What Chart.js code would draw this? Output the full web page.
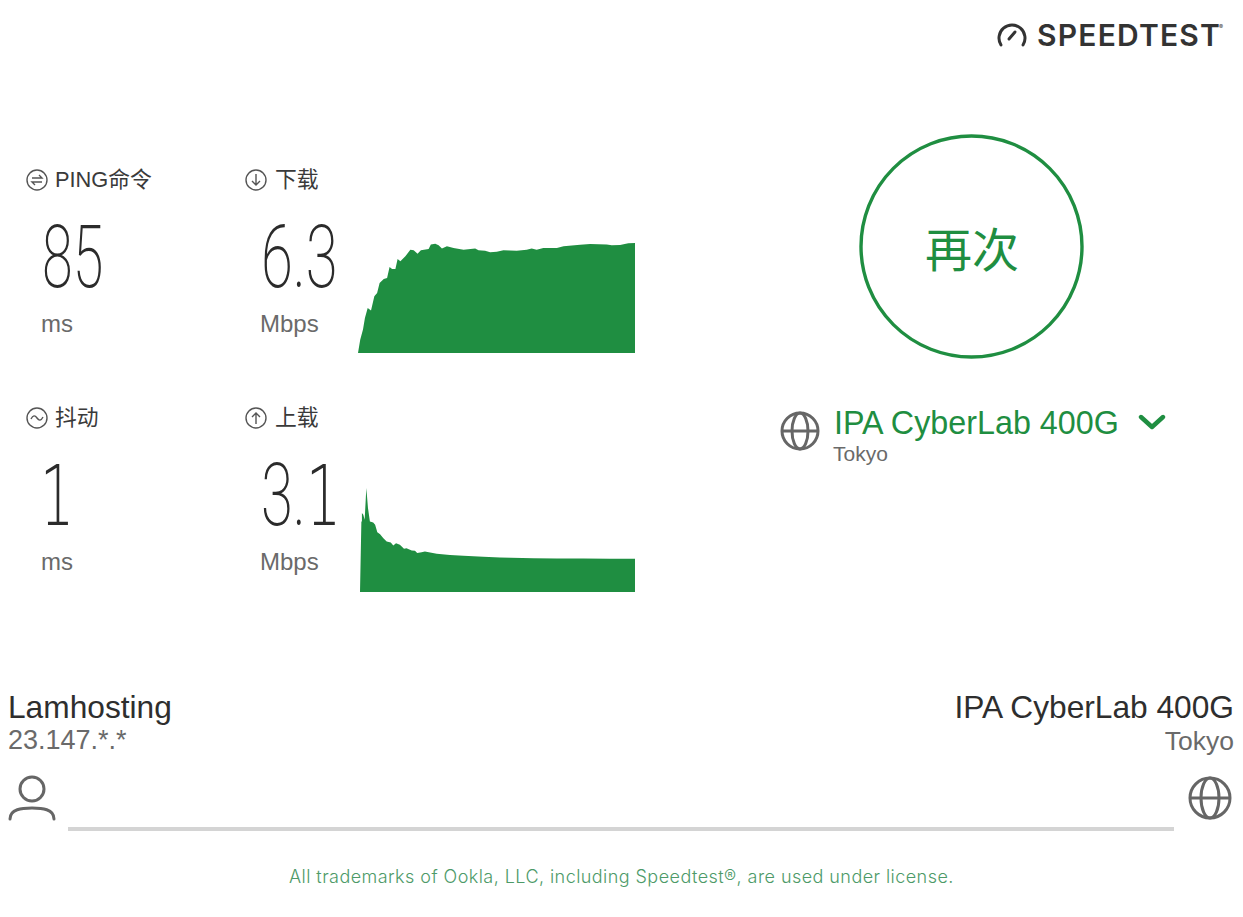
<!DOCTYPE html>
<html>
<head>
<meta charset="utf-8">
<title>Speedtest</title>
<script src="https://cdn.jsdelivr.net/npm/chart.js@4"></script>
<style>
  html, body { margin: 0; padding: 0; background: #fff; }
  body { position: relative; width: 1243px; height: 917px; overflow: hidden; font-family: "Liberation Sans", "Noto Sans CJK SC", sans-serif; }
  .t { position: absolute; white-space: nowrap; line-height: 1; }
  .label { font-size: 21.8px; color: #3a3a3a; }
  .unit { font-size: 24px; color: #6a6a6a; }
  .big { font-family: Roboto; font-size: 87px; font-weight: 200; color: #2b2b2b; transform-origin: left top; transform: scaleX(.64); }
  .big.wide { transform: scaleX(.665); }
  .one { font-family: "DejaVu Sans"; font-weight: 200; font-size: 84px; }
  .chart { position: absolute; }
  svg { position: absolute; fill: none; }
</style>
</head>
<body>

<svg style="left:996px;top:20px" width="32" height="28" viewBox="0 0 32 28" stroke="#333" stroke-width="3" stroke-linecap="round">
  <path d="M5 25 A13 13 0 1 1 27 25"/><path d="M13 19 L19 12"/>
</svg>
<div class="t" style="left:1037px;top:17px;font:600 30px Inter;color:#333;letter-spacing:1.2px">SPEEDTEST</div>
<div class="t" style="left:1219px;top:23px;font:400 6px Inter;color:#333">®</div>

<svg style="left:26px;top:169px" width="22" height="22" viewBox="0 0 22 22" stroke="#555" stroke-width="1.4">
  <circle cx="11" cy="11" r="10"/><path d="M6 9 H16 L13 6 M16 13 H6 L9 16"/>
</svg>
<div class="t label" style="left:55px;top:169px">PING命令</div>
<svg style="left:245px;top:169px" width="22" height="22" viewBox="0 0 22 22" stroke="#555" stroke-width="1.4">
  <circle cx="11" cy="11" r="10"/><path d="M11 5 V16 M7 12 L11 16 L15 12"/>
</svg>
<div class="t label" style="left:275px;top:169px">下载</div>
<svg style="left:26px;top:407px" width="22" height="22" viewBox="0 0 22 22" stroke="#555" stroke-width="1.4">
  <circle cx="11" cy="11" r="10"/><path d="M5 12 C7 8 9 8 11 11 C13 14 15 14 17 10"/>
</svg>
<div class="t label" style="left:55px;top:407px">抖动</div>
<svg style="left:245px;top:407px" width="22" height="22" viewBox="0 0 22 22" stroke="#555" stroke-width="1.4">
  <circle cx="11" cy="11" r="10"/><path d="M11 17 V6 M7 10 L11 6 L15 10"/>
</svg>
<div class="t label" style="left:275px;top:407px">上载</div>

<div class="t big" style="left:42px;top:214px">85</div>
<div class="t big wide" style="left:261px;top:214px">6.3</div>
<div class="t big" style="left:40px;top:452px"><span class="one">1</span></div>
<div class="t big wide" style="left:261px;top:452px">3.<span class="one">1</span></div>
<div class="t unit" style="left:41px;top:312px">ms</div>
<div class="t unit" style="left:260px;top:312px">Mbps</div>
<div class="t unit" style="left:41px;top:550px">ms</div>
<div class="t unit" style="left:260px;top:550px">Mbps</div>

<div class="chart" style="left:358px;top:243px;width:277px;height:110px"><canvas id="downloadChart"></canvas></div>
<div class="chart" style="left:360px;top:488px;width:275px;height:104px"><canvas id="uploadChart"></canvas></div>

<svg style="left:858px;top:133px" width="227" height="227" viewBox="0 0 227 227" stroke="#1f8e41" stroke-width="3.4">
  <circle cx="113.5" cy="113.5" r="110.5"/>
</svg>
<div class="t" style="left:925px;top:214px;font:400 47px 'Noto Sans CJK SC';line-height:1.4;height:66px;color:#1f8e41">再次</div>

<svg style="left:780px;top:411px" width="40" height="40" viewBox="0 0 40 40" stroke="#666" stroke-width="3">
  <circle cx="20" cy="20" r="18"/><ellipse cx="20" cy="20" rx="8" ry="18"/><path d="M2 20 H38"/>
</svg>
<div class="t" style="left:834px;top:407px;font-size:32.3px;color:#1f8e41">IPA CyberLab 400G</div>
<svg style="left:1138px;top:414px" width="28" height="16" viewBox="0 0 28 16" stroke="#1f8e41" stroke-width="4.4" stroke-linecap="round" stroke-linejoin="round">
  <path d="M3 3 L14 13 L25 3"/>
</svg>
<div class="t" style="left:833px;top:443px;font-size:21px;color:#6a6a6a">Tokyo</div>

<div class="t" style="left:8px;top:692px;font-size:31.7px;color:#2e2e2e">Lamhosting</div>
<div class="t" style="left:8px;top:727px;font-size:27px;color:#6a6a6a">23.147.*.*</div>
<div class="t" style="right:9px;top:692px;font-size:31.7px;color:#2e2e2e">IPA CyberLab 400G</div>
<div class="t" style="right:9px;top:728px;font-size:26.5px;color:#6a6a6a">Tokyo</div>

<svg style="left:8px;top:775px" width="48" height="46" viewBox="0 0 48 46" stroke="#666" stroke-width="3" stroke-linecap="round">
  <circle cx="24" cy="14" r="12"/><path d="M2 44 C2 34 14 33 24 33 C34 33 46 34 46 44"/>
</svg>
<svg style="left:1188px;top:776px" width="44" height="44" viewBox="0 0 44 44" stroke="#666" stroke-width="3">
  <circle cx="22" cy="22" r="20"/><ellipse cx="22" cy="22" rx="9" ry="20"/><path d="M2 22 H42"/>
</svg>
<div style="position:absolute;left:68px;top:827px;width:1106px;height:4px;background:#d4d4d4"></div>

<div class="t" style="left:289px;top:866px;font:300 18px Inter;color:#4d9a68;letter-spacing:.44px">All trademarks of Ookla, LLC, including Speedtest®, are used under license.</div>

<script>
const green = "#1f8e41";

// percent of test elapsed, Mbps
const downloadTime = [0, 0.8, 1.8, 2.5, 3.5, 4.7, 5.9, 6.9, 7.8, 9.3, 10.5, 11.4, 12.3, 13.5, 14.3, 15.3, 17.1, 18.9, 20.1, 21.5, 22.7, 25.5, 26.3, 27.9, 29.1, 30.3, 32.1, 34.5, 38.1, 42.3, 43.5, 45.9, 47.7, 50.1, 52.5, 57.3, 60.9, 62.7, 64.5, 66.9, 71.8, 74.2, 80.2, 83.8, 89.8, 91.6, 94.6, 97.6, 100];
const downloadMbps = [0, 0.76, 1.34, 2.0, 2.58, 2.44, 3.25, 3.44, 4.01, 4.24, 4.30, 4.93, 4.81, 4.81, 5.38, 5.25, 5.54, 5.92, 5.88, 5.69, 5.88, 5.96, 6.22, 6.26, 6.17, 5.99, 6.11, 6.01, 5.92, 5.98, 5.88, 5.86, 5.77, 5.80, 5.88, 5.86, 5.92, 5.98, 5.92, 6.01, 6.01, 6.11, 6.20, 6.24, 6.22, 6.17, 6.19, 6.28, 6.30];
const uploadTime = [0, 0.5, 0.7, 1.2, 1.7, 2.3, 2.9, 3.6, 4.8, 5.5, 6.3, 7.3, 8.5, 9.7, 11.2, 12.1, 13.1, 14.5, 16, 16.9, 18.8, 20, 20.8, 22.4, 23.6, 25.5, 27.9, 32.7, 37.6, 44.8, 50.9, 63, 71.5, 81.2, 90.9, 100];
const uploadMbps = [0, 6.6, 7.39, 7.23, 6.76, 9.73, 7.86, 6.60, 6.51, 6.29, 5.60, 5.41, 5.04, 4.73, 4.63, 4.35, 4.57, 4.41, 4.04, 4.10, 3.88, 3.85, 3.66, 3.72, 3.79, 3.69, 3.57, 3.47, 3.38, 3.29, 3.22, 3.16, 3.13, 3.13, 3.10, 3.10];

function areaChart(id, times, values, top) {
  return new Chart(document.getElementById(id), {
    type: "line",
    data: {
      datasets: [{
        data: times.map((t, i) => ({ x: t, y: values[i] })),
        borderWidth: 0,
        pointRadius: 0,
        tension: 0,
        fill: "origin",
        backgroundColor: green
      }]
    },
    options: {
      responsive: true,
      maintainAspectRatio: false,
      animation: false,
      layout: { padding: 0 },
      plugins: { legend: { display: false }, tooltip: { enabled: false } },
      scales: {
        x: { type: "linear", min: 0, max: 100, display: false },
        y: { min: 0, max: top, display: false }
      }
    }
  });
}

areaChart("downloadChart", downloadTime, downloadMbps, 6.3);
areaChart("uploadChart", uploadTime, uploadMbps, 9.73);
</script>
</body>
</html>
